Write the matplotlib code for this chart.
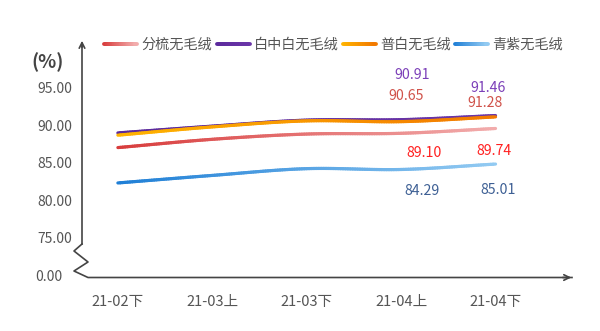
import numpy as np
import matplotlib.pyplot as plt
from matplotlib.collections import LineCollection
from matplotlib.colors import to_rgb
from matplotlib.lines import Line2D

plt.rcParams['font.family'] = ['Noto Sans CJK SC', 'DejaVu Sans']

categories = ['21-02下', '21-03上', '21-03下', '21-04上', '21-04下']
series_names = ['分梳无毛绒', '白中白无毛绒', '普白无毛绒', '青紫无毛绒']
fenshu = [87.2, 88.3, 89.0, 89.10, 89.74]
baizhongbai = [89.15, 90.05, 90.85, 90.91, 91.46]
pubai = [88.85, 89.95, 90.75, 90.65, 91.28]
qingzi = [82.5, 83.5, 84.4, 84.29, 85.01]
yticks = [95, 90, 85, 80, 75]
ytick_labels = ['95.00', '90.00', '85.00', '80.00', '75.00']

# gradient start/end colours per series, label colour
styles = [
    (fenshu, '#d83c3c', '#f2acac', '#ff1f1f'),
    (baizhongbai, '#5b2a9c', '#6a35a8', '#7b3fb8'),
    (pubai, '#ffb400', '#f27a00', '#d0524a'),
    (qingzi, '#1f7fd6', '#92caf2', '#3d5f94'),
]
# label offsets in pixels (dx, dy) for the last two points of each series
label_px = [
    [(23, 20), (-2, 23)],
    [(11, -45), (-7, -28)],
    [(5, -26), (-11, -14)],
    [(21, 22), (3, 26)],
]


def smooth(xs, ys, n=40):
    xs = np.asarray(xs, float)
    ys = np.asarray(ys, float)
    m = np.gradient(ys, xs)
    px, py = [], []
    for i in range(len(xs) - 1):
        t = np.linspace(0, 1, n)
        h = xs[i + 1] - xs[i]
        h00 = 2 * t**3 - 3 * t**2 + 1
        h10 = t**3 - 2 * t**2 + t
        h01 = -2 * t**3 + 3 * t**2
        h11 = t**3 - t**2
        px.append(xs[i] + t * h)
        py.append(h00 * ys[i] + h10 * h * m[i] + h01 * ys[i + 1] + h11 * h * m[i + 1])
    return np.concatenate(px), np.concatenate(py)


def grad_line(x, y, c0, c1, lw, transform, z=3):
    pts = np.column_stack([x, y]).reshape(-1, 1, 2)
    segs = np.concatenate([pts[:-1], pts[1:]], axis=1)
    a, b = np.array(to_rgb(c0)), np.array(to_rgb(c1))
    f = np.linspace(0, 1, len(segs))[:, None]
    cols = a * (1 - f) + b * f
    return LineCollection(segs, colors=cols, linewidths=lw, capstyle='round',
                          zorder=z, transform=transform)


fig = plt.figure(figsize=(6, 3.31), dpi=100)
W, H = 600, 331
ax = fig.add_axes([82 / W, (H - 277) / H, (572 - 82) / W, (277 - 40) / H])
ax.set_xlim(-0.38, 4.81)
ax.set_ylim(70, 101.5)
for s in ax.spines.values():
    s.set_visible(False)
ax.set_xticks([])
ax.set_yticks([])

x = np.arange(len(categories))
for k, (vals, c0, c1, lc) in enumerate(styles):
    sx, sy = smooth(x, vals)
    ax.add_collection(grad_line(sx, sy, c0, c1, 2.3, ax.transData, z=3 + k))
    for j, i in enumerate((3, 4)):
        dx, dy = label_px[k][j]
        ax.annotate(f'{vals[i]:.2f}', (x[i], vals[i]), xytext=(dx * 0.72, -dy * 0.72),
                    textcoords='offset points', ha='center', va='center',
                    fontsize=10.2, color=lc)

# axes with break
axc = '#444444'
def fx(px):
    return px / W
def fy(py):
    return 1 - py / H
fig.add_artist(Line2D([fx(82), fx(82)], [fy(44), fy(244)], color=axc, lw=1.2))
fig.add_artist(Line2D([fx(82), fx(74), fx(88), fx(74), fx(88), fx(572)],
                      [fy(244), fy(251), fy(262), fy(271), fy(277.5), fy(277.5)],
                      color=axc, lw=1.2))
ax.annotate('', xy=(fx(82), fy(38)), xytext=(fx(82), fy(50)), xycoords='figure fraction',
            arrowprops=dict(arrowstyle='->', color=axc, lw=1.2))
ax.annotate('', xy=(fx(574), fy(277.5)), xytext=(fx(560), fy(277.5)), xycoords='figure fraction',
            arrowprops=dict(arrowstyle='->', color=axc, lw=1.2))

for v, t in zip(yticks, ytick_labels):
    ax.text(-0.48, v, t, ha='right', va='center', fontsize=10, color='#555555')
fig.text(fx(62), fy(277), '0.00', ha='right', va='center', fontsize=10, color='#555555')
fig.text(fx(48), fy(62), '(%)', ha='center', va='center', fontsize=13.5,
         fontweight='bold', color='#444444')
for i, c in enumerate(categories):
    ax.text(x[i], 67.6, c, ha='center', va='top', fontsize=10.5, color='#555555')

# legend
swatch_x = [104, 217, 343, 455]
for (vals, c0, c1, lc), name, px in zip(styles, series_names, swatch_x):
    fig.add_artist(grad_line(np.linspace(fx(px), fx(px + 33), 20), np.full(20, fy(44)),
                             c0, c1, 2.8, fig.transFigure))
    fig.text(fx(px + 37), fy(44), name, ha='left', va='center', fontsize=10.2, color='#555555')

fig.savefig('out.png', dpi=100)
